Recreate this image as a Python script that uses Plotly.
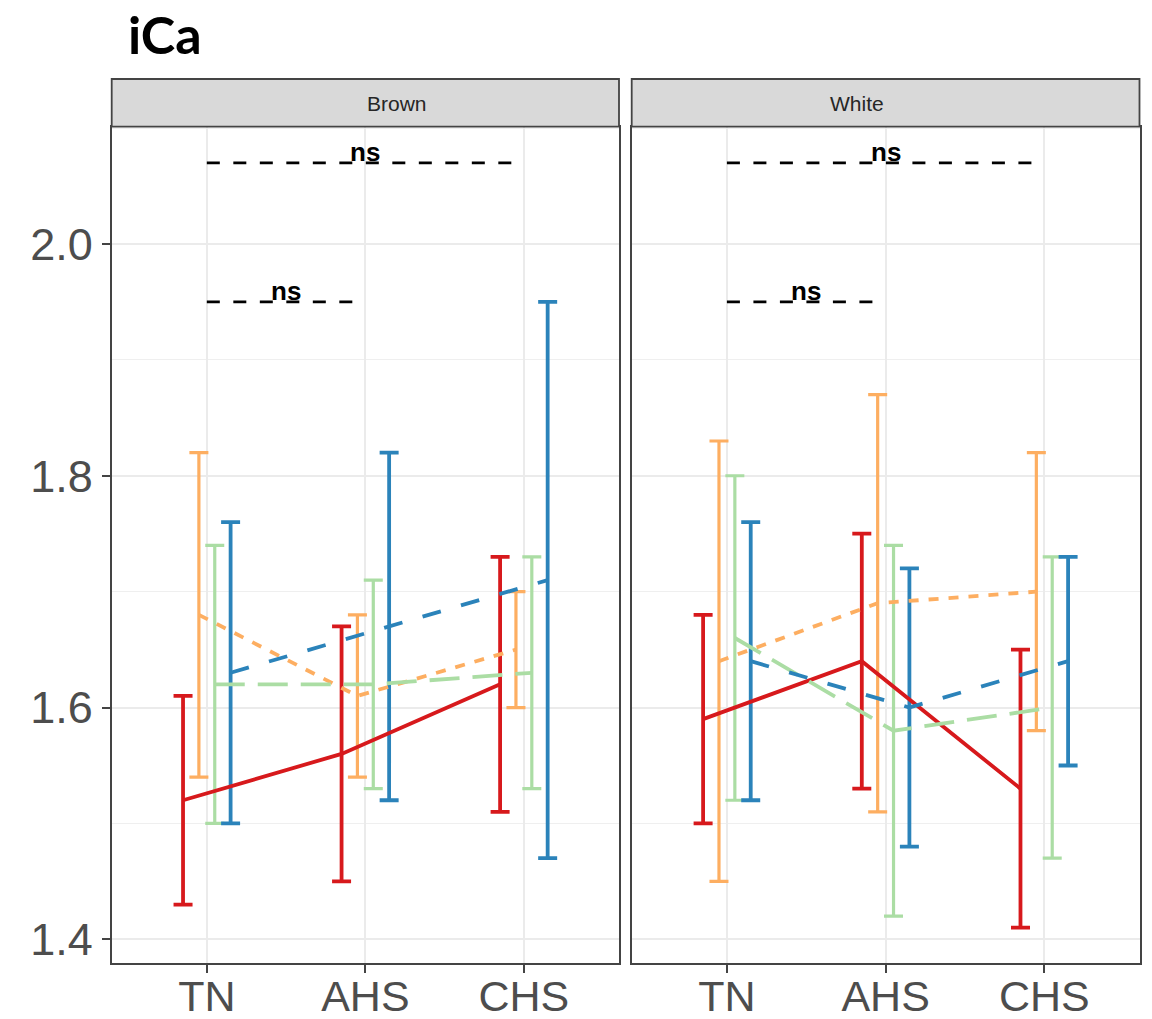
import plotly.graph_objects as go

# ---------------- data ----------------
categories = ["TN", "AHS", "CHS"]
facets = ["Brown", "White"]
series_names = ["Group 1", "Group 2", "Group 3", "Group 4"]
series_colors = ["#D7191C", "#FDAE61", "#ABDDA4", "#2B83BA"]

# Brown facet
brown_g1_mean = [1.52, 1.56, 1.62]
brown_g1_low = [1.43, 1.45, 1.51]
brown_g1_high = [1.61, 1.67, 1.73]
brown_g2_mean = [1.68, 1.61, 1.65]
brown_g2_low = [1.54, 1.54, 1.60]
brown_g2_high = [1.82, 1.68, 1.70]
brown_g3_mean = [1.62, 1.62, 1.63]
brown_g3_low = [1.50, 1.53, 1.53]
brown_g3_high = [1.74, 1.71, 1.73]
brown_g4_mean = [1.63, 1.67, 1.71]
brown_g4_low = [1.50, 1.52, 1.47]
brown_g4_high = [1.76, 1.82, 1.95]

# White facet
white_g1_mean = [1.59, 1.64, 1.53]
white_g1_low = [1.50, 1.53, 1.41]
white_g1_high = [1.68, 1.75, 1.65]
white_g2_mean = [1.64, 1.69, 1.70]
white_g2_low = [1.45, 1.51, 1.58]
white_g2_high = [1.83, 1.87, 1.82]
white_g3_mean = [1.66, 1.58, 1.60]
white_g3_low = [1.52, 1.42, 1.47]
white_g3_high = [1.80, 1.74, 1.73]
white_g4_mean = [1.64, 1.60, 1.64]
white_g4_low = [1.52, 1.48, 1.55]
white_g4_high = [1.76, 1.72, 1.73]

# significance brackets (start category, end category, y, label)
bracket_start = ["TN", "TN"]
bracket_end = ["CHS", "AHS"]
bracket_y = [2.07, 1.95]
bracket_label = ["ns", "ns"]

y_ticks = [1.4, 1.6, 1.8, 2.0]
y_minor = [1.5, 1.7, 1.9, 2.1]

# ---------------- styling ----------------
W, H = 1152, 1019
panel_x = [(111.7, 619.0), (631.7, 1139.5)]
panel_top, panel_bottom = 126.7, 963.3
strip_top = 79.0
line_dashes = ["solid", "10px,10px", "30px,13px", "19px,21px"]
bar_widths = [3.8, 3.2, 3.2, 3.8]
dodge = 0.4
offsets = [dodge * (i - 1.5) / 4 for i in range(4)]

facet_data = {
    "Brown": [
        (brown_g1_mean, brown_g1_low, brown_g1_high),
        (brown_g2_mean, brown_g2_low, brown_g2_high),
        (brown_g3_mean, brown_g3_low, brown_g3_high),
        (brown_g4_mean, brown_g4_low, brown_g4_high),
    ],
    "White": [
        (white_g1_mean, white_g1_low, white_g1_high),
        (white_g2_mean, white_g2_low, white_g2_high),
        (white_g3_mean, white_g3_low, white_g3_high),
        (white_g4_mean, white_g4_low, white_g4_high),
    ],
}

fig = go.Figure()
base_x = list(range(1, len(categories) + 1))
cat_pos = {c: i + 1 for i, c in enumerate(categories)}

for fi, facet in enumerate(facets):
    xa = "x" if fi == 0 else "x2"
    ya = "y" if fi == 0 else "y2"
    # error bars first
    for gi, (m, lo, hi) in enumerate(facet_data[facet]):
        xs = [b + offsets[gi] for b in base_x]
        fig.add_trace(go.Scatter(
            x=xs, y=m, xaxis=xa, yaxis=ya, mode="markers",
            marker=dict(size=1, color="rgba(0,0,0,0)"),
            error_y=dict(type="data", symmetric=False,
                         array=[h - v for h, v in zip(hi, m)],
                         arrayminus=[v - l for v, l in zip(m, lo)],
                         color=series_colors[gi], thickness=bar_widths[gi], width=9.5),
            showlegend=False, hoverinfo="skip", name=series_names[gi]))
    # lines
    for gi, (m, lo, hi) in enumerate(facet_data[facet]):
        xs = [b + offsets[gi] for b in base_x]
        fig.add_trace(go.Scatter(
            x=xs, y=m, xaxis=xa, yaxis=ya, mode="lines",
            line=dict(color=series_colors[gi], width=3.8, dash=line_dashes[gi]),
            showlegend=False, name=series_names[gi]))
    # brackets
    for s, e, yv, lab in zip(bracket_start, bracket_end, bracket_y, bracket_label):
        fig.add_trace(go.Scatter(
            x=[cat_pos[s], cat_pos[e]], y=[yv, yv], xaxis=xa, yaxis=ya, mode="lines",
            line=dict(color="black", width=2.8, dash="13px,13.5px"),
            showlegend=False, hoverinfo="skip"))
        fig.add_annotation(
            x=(cat_pos[s] + cat_pos[e]) / 2, y=yv, xref=xa, yref=ya,
            text="<b>" + lab + "</b>", showarrow=False, yanchor="bottom", yshift=-6,
            font=dict(family="Liberation Sans, Arial", size=26, color="black"))

    # strip
    x0, x1 = panel_x[fi]
    fig.add_shape(type="rect", xref="paper", yref="paper",
                  x0=x0 / W, x1=x1 / W, y0=1 - panel_top / H, y1=1 - strip_top / H,
                  fillcolor="#D9D9D9", line=dict(color="#444444", width=1.8), layer="above")
    fig.add_annotation(x=(x0 + x1) / 2 / W, y=1 - (panel_top + strip_top) / 2 / H,
                       xref="paper", yref="paper", text=facet, showarrow=False,
                       yanchor="middle", yshift=-1,
                       font=dict(family="Liberation Sans, Arial", size=21, color="#262626"))

axis_common = dict(showline=True, mirror=True, linecolor="#444444", linewidth=2,
                   gridcolor="#EBEBEB", gridwidth=2, zeroline=False, automargin=False)
ydom = [1 - panel_bottom / H, 1 - panel_top / H]
yrange = [1.3793, 2.1012]
tick_font = dict(family="Liberation Sans, Arial", size=45, color="#4D4D4D")
xtick_font = dict(family="Liberation Sans, Arial", size=43, color="#4D4D4D")

fig.update_layout(
    width=W, height=H, margin=dict(l=0, r=0, t=0, b=0, autoexpand=False),
    paper_bgcolor="white", plot_bgcolor="white", showlegend=False,
    xaxis=dict(domain=[panel_x[0][0] / W, panel_x[0][1] / W], range=[0.4, 3.6],
               tickvals=base_x, ticktext=categories, ticks="outside", ticklen=8,
               tickwidth=2, tickcolor="#444444", anchor="y", tickfont=xtick_font,
               ticklabelstandoff=-14, **axis_common),
    xaxis2=dict(domain=[panel_x[1][0] / W, panel_x[1][1] / W], range=[0.4, 3.6],
                tickvals=base_x, ticktext=categories, ticks="outside", ticklen=8,
                tickwidth=2, tickcolor="#444444", anchor="y2", tickfont=xtick_font,
                ticklabelstandoff=-14, **axis_common),
    yaxis=dict(domain=ydom, range=yrange, tickvals=y_ticks,
               ticktext=[f"{v:.1f}" for v in y_ticks], ticks="outside", ticklen=8,
               tickwidth=2, tickcolor="#444444", anchor="x", tickfont=tick_font,
               minor=dict(tickvals=y_minor, showgrid=True, gridcolor="#EFEFEF",
                          gridwidth=1.2, ticks=""),
               **axis_common),
    yaxis2=dict(domain=ydom, range=yrange, tickvals=y_ticks, showticklabels=False,
                ticks="", anchor="x2",
                minor=dict(tickvals=y_minor, showgrid=True, gridcolor="#EFEFEF",
                           gridwidth=1.2, ticks=""),
                **axis_common),
)

fig.add_annotation(x=126 / W, y=1 - 34 / H, xref="paper", yref="paper", text="<b>iCa</b>",
                   showarrow=False, xanchor="left", yanchor="middle",
                   font=dict(family="Lato", size=52, color="black"))

fig.write_html("out.html")
